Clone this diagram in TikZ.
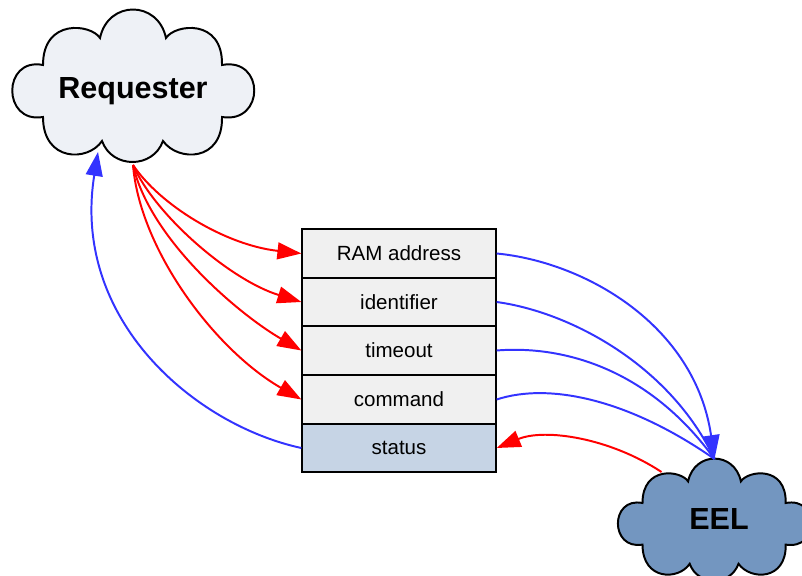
\documentclass[tikz,border=0pt]{standalone}
\usepackage{fontspec}
\setmainfont{Liberation Sans}
\usepackage{tikz}
\usetikzlibrary{arrows.meta}

\definecolor{reqfill}{HTML}{EEF1F6}
\definecolor{eelfill}{HTML}{7396C0}
\definecolor{statfill}{HTML}{C6D4E5}
\definecolor{boxfill}{HTML}{F0F0F0}
\definecolor{linkblue}{HTML}{3333FF}

\tikzset{
  field/.style={draw=black,line width=1.4pt,fill=boxfill,minimum width=137.5pt,
    minimum height=34.4pt,inner sep=0pt,font=\fontsize{14.6}{16}\selectfont},
  puff/.style={draw=black,line width=1.4pt},
  title/.style={inner sep=0pt,font=\fontsize{21.7}{24}\selectfont\bfseries},
  redlink/.style={red,line width=1.4pt,-{Triangle[length=17pt,width=12pt]}},
  bluelink/.style={linkblue,line width=1.4pt},
  bluearrow/.style={bluelink,-{Triangle[length=17pt,width=12pt]}}
}

\newcommand{\puffpath}{(-33,-52) .. controls (-25,-90) and (25,-90) .. (33,-52)
  .. controls (42,-66) and (90,-72) .. (89,-25)
  .. controls (132,-33) and (132,34) .. (89,27)
  .. controls (90,72) and (45,72) .. (30,51)
  .. controls (20,79) and (-21,79) .. (-31,51)
  .. controls (-45,72) and (-90,72) .. (-90,27)
  .. controls (-131,34) and (-131,-33) .. (-90,-25)
  .. controls (-90,-72) and (-42,-66) .. (-33,-52) -- cycle}

\begin{document}
\begin{tikzpicture}[x=0.025cm,y=-0.025cm]
    \clip (0,0) rectangle (802,576);
    % clouds
    \begin{scope}[shift={(133,90)}]
      \draw[puff,fill=reqfill] \puffpath;
    \end{scope}
    \begin{scope}[shift={(714.5,523)},scale=0.8]
      \draw[puff,fill=eelfill] \puffpath;
    \end{scope}
    \node[title] (requester) at (133,91) {Requester};
    \node[title] (eel) at (719,519.5) {EEL};
    \coordinate (reqout) at (133,165);
    \coordinate (reqin) at (98,152);
    \coordinate (eelin) at (714.5,459);
    \coordinate (eelout) at (661.5,472);
    % fields
    \node[field] (ram) at (399,253.5) {RAM address};
    \node[field] (identifier) at (399,302) {identifier};
    \node[field] (timeout) at (399,350.5) {timeout};
    \node[field] (command) at (399,399.5) {command};
    \node[field,fill=statfill] (status) at (399,448) {status};
    % requester to fields
    \draw[redlink] (reqout) .. controls (160,205) and (225,245) .. (ram.west);
    \draw[redlink] (reqout) .. controls (155,215) and (230,280) .. (identifier.west);
    \draw[redlink] (reqout) .. controls (150,240) and (240,315) .. (timeout.west);
    \draw[redlink] (reqout) .. controls (140,250) and (215,350) .. (command.west);
    \draw[bluearrow] (status.west) .. controls (195,425) and (71,320) .. (reqin);
    % fields to EEL
    \draw[bluelink] (identifier.east) .. controls (570,312) and (670,365) .. (eelin);
    \draw[bluelink] (timeout.east) .. controls (565,345) and (650,370) .. (eelin);
    \draw[bluelink] (command.east) .. controls (550,382) and (630,400) .. (eelin);
    \draw[bluearrow] (ram.east) .. controls (585,262) and (695,325) .. (eelin);
    \draw[redlink] (eelout) .. controls (610,438) and (545,428) .. (status.east);
  \end{tikzpicture}
\end{document}
